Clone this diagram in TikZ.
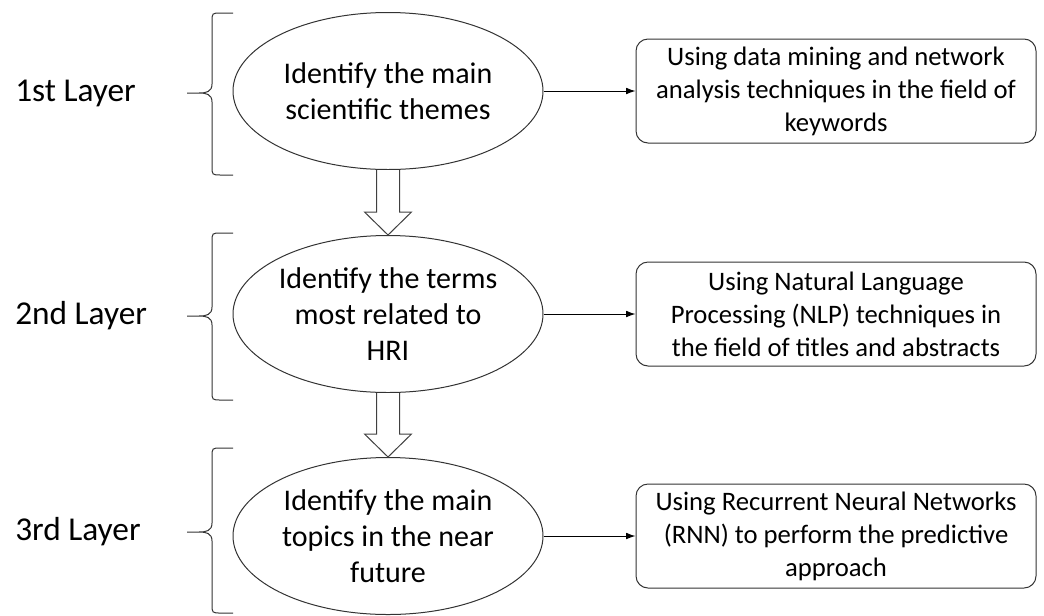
\documentclass[tikz,border=0pt]{standalone}
\usepackage{fontspec}
\setmainfont{Carlito}
\usetikzlibrary{shapes.geometric,arrows.meta,calc}
\tikzset{
  layer/.style={anchor=west, inner sep=0pt, font=\fontsize{25}{30}\selectfont},
  stage/.style={ellipse, draw=black!80, line width=0.75pt, minimum width=232.5pt, minimum height=117.75pt, inner sep=0pt, align=center, font=\fontsize{22.5}{27}\selectfont},
  method/.style={rectangle, rounded corners=9pt, draw=black!80, line width=0.75pt, minimum width=300pt, minimum height=78pt, inner sep=0pt, align=center, font=\fontsize{20}{24.75}\selectfont},
  link/.style={line width=0.75pt, -{Latex[length=7pt,width=5pt]}},
  hollow/.style={draw=black!75, line width=0.75pt, fill=white},
}
\begin{document}
\begin{tikzpicture}[x=0.75pt, y=-0.75pt]
  \useasboundingbox (0,0) rectangle (1044,615);

  % layers
  \node[layer] (l1) at (15,93) {1st Layer};
  \node[layer] (l2) at (15,316) {2nd Layer};
  \node[layer] (l3) at (15,532) {3rd Layer};

  \foreach \t/\m/\b in {13/93/175, 233/316/400, 448/532/613}
    \draw[black!80, line width=0.75pt] (233,\t) -- (221,\t) .. controls (212,\t) .. (212,{\t+9})
      -- (212,{\m-9}) .. controls (212,{\m-1}) and (206,\m) .. (199,\m) -- (187,\m)
      (199,\m) .. controls (206,\m) and (212,{\m+1}) .. (212,{\m+9})
      -- (212,{\b-9}) .. controls (212,\b) .. (221,\b) -- (233,\b);

  % stages
  \node[stage] (s1) at (388,91) {Identify the main\\scientific themes};
  \node[stage] (s2) at (388,314) {Identify the terms\\most related to\\HRI};
  \node[stage] (s3) at (388,536) {Identify the main\\topics in the near\\future};

  % methods
  \node[method] (m1) at (836,91) {Using data mining and network\\analysis techniques in the field of\\keywords};
  \node[method] (m2) at (836,314) {Using Natural Language\\Processing (NLP) techniques in\\the field of titles and abstracts};
  \node[method] (m3) at (836,536) {Using Recurrent Neural Networks\\(RNN) to perform the predictive\\approach};

  \draw[link] (s1) -- (m1);
  \draw[link] (s2) -- (m2);
  \draw[link] (s3) -- (m3);

  % block arrows between layers
  \foreach \a/\b in {s1/s2, s2/s3}
    \draw[hollow] ($(\a.south)+(-11.5,0)$) -- ($(\b.north)+(-11.5,-23)$) -- ++(-12,0)
      -- (\b.north) -- ($(\b.north)+(23.5,-23)$) -- ++(-12,0) -- ($(\a.south)+(11.5,0)$);
\end{tikzpicture}
\end{document}
